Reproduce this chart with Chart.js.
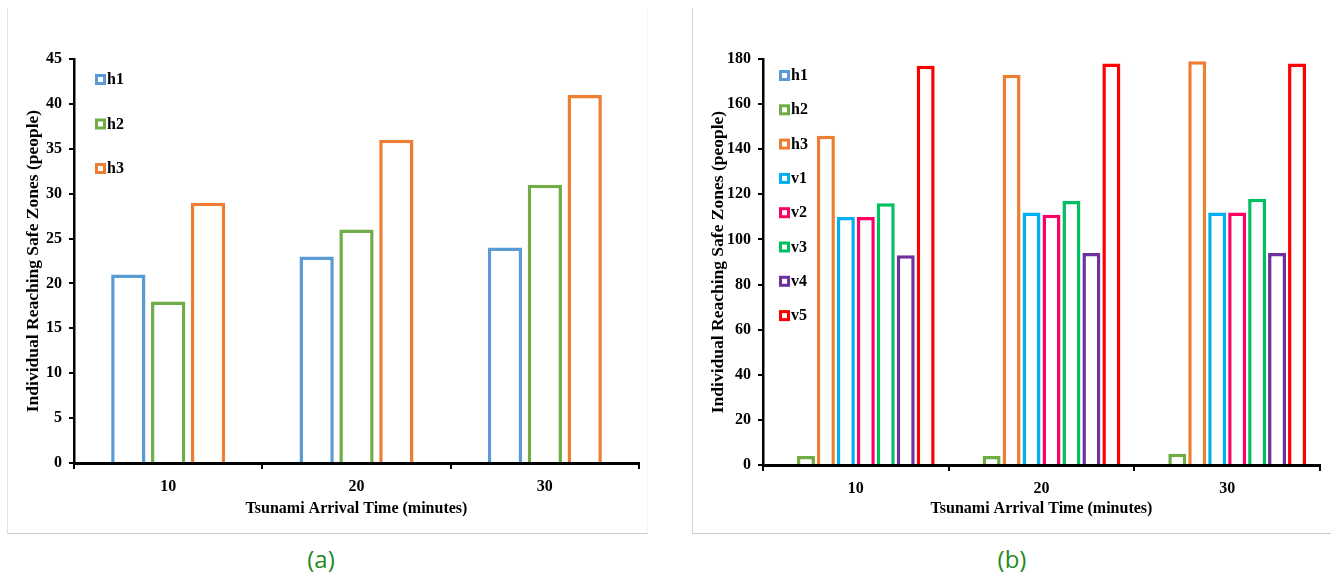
<!DOCTYPE html>
<html>
<head>
<meta charset="utf-8">
<script src="https://cdn.jsdelivr.net/npm/chart.js@4/dist/chart.umd.min.js"></script>
<style>
  body { margin: 0; background: #fff; width: 1331px; height: 576px; overflow: hidden; position: relative; }
  .panel { position: absolute; top: 8px; height: 526px; box-sizing: border-box; border-bottom: 1px solid #c8c8c8; }
  #panelA { left: 7px; width: 641px; border-left: 1px solid #e4e4e4; border-right: 1px solid #f4f4f4; }
  #panelB { left: 692px; width: 639px; border-left: 1px solid #d4d4d4; }
  canvas { position: absolute; top: 8px; }
  #chartA { left: 7px; }
  #chartB { left: 692px; }
  .cap { position: absolute; top: 542px; font-family: "Open Sans", sans-serif; font-size: 24px; color: #1f8a1f; width: 60px; text-align: center; }
</style>
</head>
<body>
<div class="panel" id="panelA"></div>
<div class="panel" id="panelB"></div>
<canvas id="chartA" width="641" height="526"></canvas>
<canvas id="chartB" width="639" height="526"></canvas>
<div class="cap" style="left:291px">(a)</div>
<div class="cap" style="left:982px">(b)</div>
<script>
const times = ['10', '20', '30'];

// chart (a)
const aH1 = [21, 23, 24];
const aH2 = [18, 26, 31];
const aH3 = [29, 36, 41];

// chart (b)
const bH1 = [0, 0, 0];
const bH2 = [4, 4, 5];
const bH3 = [146, 173, 179];
const bV1 = [110, 112, 112];
const bV2 = [110, 111, 112];
const bV3 = [116, 117, 118];
const bV4 = [93, 94, 94];
const bV5 = [177, 178, 178];

const colors = {
    h1: '#5b9bd5', h2: '#70ad47', h3: '#ed7d31',
    v1: '#00b0f0', v2: '#ff0066', v3: '#00c060', v4: '#7030a0', v5: '#ff0000'
};

const serif = '"Liberation Serif", "Times New Roman", serif';

// legend drawn inside the plot, one item per row
const insideLegend = {
    id: 'insideLegend',
    afterDatasetsDraw(chart, args, opts) {
        const { ctx, chartArea } = chart;
        ctx.save();
        ctx.font = 'bold 16px ' + serif;
        ctx.textBaseline = 'middle';
        chart.data.datasets.forEach((ds, i) => {
            const x = chartArea.left + opts.x;
            const y = chartArea.top + opts.y + i * opts.gap;
            ctx.strokeStyle = ds.borderColor;
            ctx.lineWidth = 3;
            ctx.strokeRect(x + 1.5, y - 3.5, 8, 8);
            ctx.fillStyle = '#000';
            ctx.fillText(ds.label, x + 12, y + 1);
        });
        ctx.restore();
    }
};

function bar(label, data, color) {
    return { label, data, borderColor: color, backgroundColor: '#fff', borderWidth: 3.5, borderSkipped: 'start' };
}

function makeOptions(opt) {
    return {
        responsive: false,
        animation: false,
        layout: { padding: { left: 0, top: opt.top, right: opt.right, bottom: 0 } },
        plugins: {
            legend: { display: false },
            tooltip: { enabled: false },
            insideLegend: opt.legend
        },
        datasets: { bar: { categoryPercentage: opt.cat, barPercentage: opt.bar } },
        scales: {
            x: {
                grid: { offset: true, drawOnChartArea: false, drawTicks: true, tickLength: 6, color: '#000', lineWidth: 2 },
                border: { color: '#000', width: 3 },
                ticks: { color: '#000', padding: 8, font: { family: serif, size: 16, weight: 'bold' } },
                title: { display: true, text: 'Tsunami Arrival Time (minutes)', color: '#000', padding: { top: 0, bottom: 16 },
                    font: { family: serif, size: 16, weight: 'bold' } },
                afterFit(scale) { scale.height = opt.xh; }
            },
            y: {
                min: 0, max: opt.max,
                grid: { drawOnChartArea: false, drawTicks: true, tickLength: 5, color: '#000', lineWidth: 2 },
                border: { color: '#000', width: 2.5 },
                ticks: { stepSize: opt.step, color: '#000', padding: 7, font: { family: serif, size: 16, weight: 'bold' } },
                title: { display: true, text: 'Individual Reaching Safe Zones (people)', color: '#000', padding: { top: 16, bottom: 0 },
                    font: { family: serif, size: 17.5, weight: 'bold' } },
                afterFit(scale) { scale.width = opt.yw; }
            }
        }
    };
}

new Chart(document.getElementById('chartA'), {
    type: 'bar',
    data: {
        labels: times,
        datasets: [
            bar('h1', aH1, colors.h1),
            bar('h2', aH2, colors.h2),
            bar('h3', aH3, colors.h3)
        ]
    },
    options: makeOptions({ top: 51, right: 9, xh: 71, yw: 67, max: 45, step: 5, cat: 0.635, bar: 0.86,
        legend: { x: 21, y: 20, gap: 44.5 } }),
    plugins: [insideLegend]
});

new Chart(document.getElementById('chartB'), {
    type: 'bar',
    data: {
        labels: times,
        datasets: [
            bar('h1', bH1, colors.h1),
            bar('h2', bH2, colors.h2),
            bar('h3', bH3, colors.h3),
            bar('v1', bV1, colors.v1),
            bar('v2', bV2, colors.v2),
            bar('v3', bV3, colors.v3),
            bar('v4', bV4, colors.v4),
            bar('v5', bV5, colors.v5)
        ]
    },
    options: makeOptions({ top: 51, right: 11, xh: 69, yw: 71, max: 180, step: 20, cat: 0.86, bar: 0.9,
        legend: { x: 16, y: 16, gap: 34.3 } }),
    plugins: [insideLegend]
});
</script>
</body>
</html>
